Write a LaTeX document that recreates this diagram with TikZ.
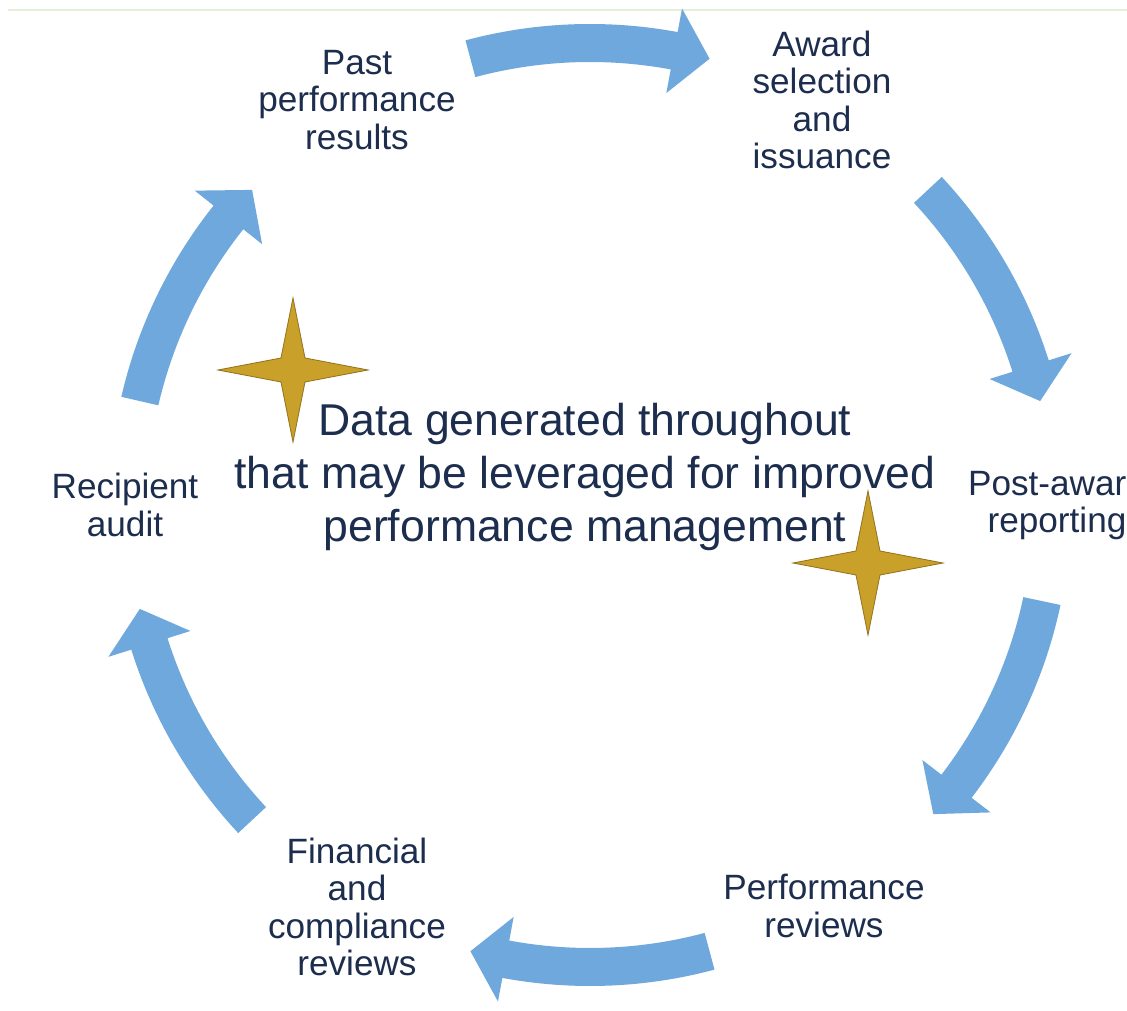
\documentclass[tikz,border=0pt]{standalone}
\usepackage{fontspec}
\setmainfont{Liberation Sans}
\usepackage{tikz}

\definecolor{cyclearrowblue}{RGB}{111,168,220}
\definecolor{labelnavy}{RGB}{28,45,78}
\definecolor{sparklegold}{RGB}{201,160,42}
\definecolor{sparkleedge}{RGB}{150,115,30}
\definecolor{rulegreen}{RGB}{226,239,218}

\begin{document}
\begin{tikzpicture}[x = 0.025cm, y = 0.025cm,
		stage/.style = {text = labelnavy, align = center, font = \fontsize{25}{26.5}\selectfont},
		sparkle/.style = {fill = sparklegold, draw = sparkleedge, line width = 0.6pt, line join = miter}]
			\clip (-590,-501) rectangle (537,510);
			\fill [white] (-590,-501) rectangle (537,510);
			\draw [rulegreen, line width = 1.4pt] (-582,500) -- (537,500);

			% six arrows going round clockwise
			\begin{scope}[shift = {(0,5)}]
				\foreach \c in {90,28,-27,-90,-152,152}
				{
					\fill [cyclearrowblue] (\c+15:481) arc [start angle = \c+15, end angle = \c-10.5, radius = 481]
						-- (\c-10.5:505) -- (\c-15:462) -- (\c-10.5:419) -- (\c-10.5:443)
						arc [start angle = \c-10.5, end angle = \c+15, radius = 443] -- cycle;
				}
			\end{scope}

			\node [stage] (past) at (-233,410) {Past\\performance\\results};
			\node [stage] (award) at (232,410) {Award\\selection\\and\\issuance};
			\node [stage] (post) at (467,5) {Post-award\\reporting};
			\node [stage] (perf) at (234,-396) {Performance\\reviews};
			\node [stage] (fin) at (-233,-397) {Financial\\and\\compliance\\reviews};
			\node [stage] (audit) at (-465,5) {Recipient\\audit};

			\node [text = labelnavy, align = center, font = \fontsize{31.7}{38}\selectfont] (data) at (-5,33)
				{Data generated throughout\\that may be leveraged for improved\\performance management};

			\foreach \sx/\sy in {-297/140, 278/-53}
			{
				\draw [sparkle] (\sx,\sy+72) -- (\sx+12,\sy+12) -- (\sx+75,\sy) -- (\sx+12,\sy-12)
					-- (\sx,\sy-72) -- (\sx-12,\sy-12) -- (\sx-75,\sy) -- (\sx-12,\sy+12) -- cycle;
			}
		\end{tikzpicture}
\end{document}
